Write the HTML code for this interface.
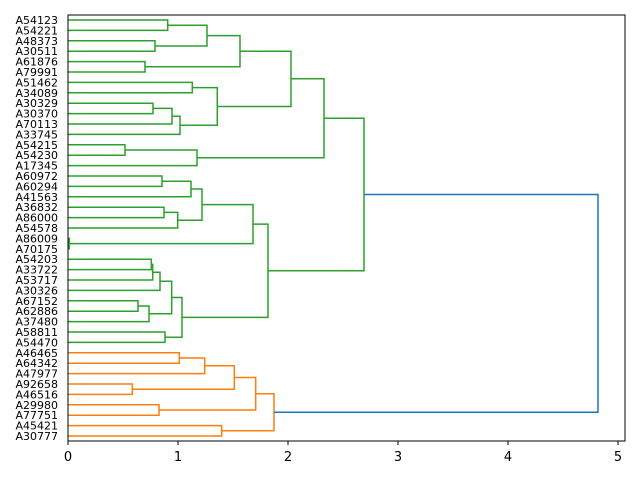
<!DOCTYPE html>
<html><head><meta charset="utf-8"><style>
html,body{margin:0;padding:0;background:#fff;}
svg{display:block;font-family:"DejaVu Sans","Liberation Sans",sans-serif;}
</style></head><body>
<svg width="640" height="480" viewBox="0 0 640 480" xmlns="http://www.w3.org/2000/svg">
<rect width="640" height="480" fill="#fff"/>
<g fill="none" stroke-width="1.5">
<g stroke="#2ca02c">
<path d="M68 20H167.7V30.4H68"/>
<path d="M68 40.8H155V51.2H68"/>
<path d="M167.7 25.2H207V46H155"/>
<path d="M68 61.6H145V72H68"/>
<path d="M207 35.6H240V66.8H145"/>
<path d="M68 82.4H192.3V92.8H68"/>
<path d="M68 103.2H153V113.6H68"/>
<path d="M153 108.4H172V124H68"/>
<path d="M172 116.2H180V134.4H68"/>
<path d="M192.3 87.6H217.3V125.3H180"/>
<path d="M240 51.2H291V106.45H217.3"/>
<path d="M68 144.8H125V155.2H68"/>
<path d="M125 150H197V165.6H68"/>
<path d="M291 78.8H324V157.8H197"/>
<path d="M68 176H162V186.4H68"/>
<path d="M162 181.2H191V196.8H68"/>
<path d="M68 207.2H164V217.6H68"/>
<path d="M164 212.4H177.7V228H68"/>
<path d="M191 189H202V220.2H177.7"/>
<path d="M68 238.4H69.3V248.8H68"/>
<path d="M202 204.6H253V243.6H69.3"/>
<path d="M68 259.2H151.3V269.6H68"/>
<path d="M151.3 264.4H152.7V280H68"/>
<path d="M152.7 272.2H160V290.4H68"/>
<path d="M68 300.8H138V311.2H68"/>
<path d="M138 306H149V321.6H68"/>
<path d="M160 281.3H171.7V313.8H149"/>
<path d="M68 332H165V342.4H68"/>
<path d="M171.7 297.55H182V337.2H165"/>
<path d="M253 224.1H268V317.4H182"/>
<path d="M324 118.3H364V270.75H268"/>
</g>
<g stroke="#ff7f0e">
<path d="M68 352.8H179.3V363.2H68"/>
<path d="M179.3 358H204.7V373.6H68"/>
<path d="M68 384H132.3V394.4H68"/>
<path d="M204.7 365.8H234.3V389.2H132.3"/>
<path d="M68 404.8H159V415.2H68"/>
<path d="M234.3 377.5H255.7V410H159"/>
<path d="M68 425.6H221.7V436H68"/>
<path d="M255.7 393.75H274V430.8H221.7"/>
</g>
<path stroke="#1f77b4" d="M274 412.3H598V194.5H364"/>
</g>
<rect x="68" y="15" width="557" height="426" fill="none" stroke="#000" stroke-width="1"/>
<path stroke="#000" stroke-width="1" d="M68 441v4M178 441v4M288 441v4M398 441v4M508 441v4M618 441v4"/>
<g font-size="13" text-anchor="middle" fill="#000">
<text x="68" y="461">0</text>
<text x="178" y="461">1</text>
<text x="288" y="461">2</text>
<text x="398" y="461">3</text>
<text x="508" y="461">4</text>
<text x="618" y="461">5</text>
</g>
<g font-size="11" text-anchor="end" fill="#000">
<text x="58" y="24">A54123</text>
<text x="58" y="34.4">A54221</text>
<text x="58" y="44.8">A48373</text>
<text x="58" y="55.2">A30511</text>
<text x="58" y="65.6">A61876</text>
<text x="58" y="76">A79991</text>
<text x="58" y="86.4">A51462</text>
<text x="58" y="96.8">A34089</text>
<text x="58" y="107.2">A30329</text>
<text x="58" y="117.6">A30370</text>
<text x="58" y="128">A70113</text>
<text x="58" y="138.4">A33745</text>
<text x="58" y="148.8">A54215</text>
<text x="58" y="159.2">A54230</text>
<text x="58" y="169.6">A17345</text>
<text x="58" y="180">A60972</text>
<text x="58" y="190.4">A60294</text>
<text x="58" y="200.8">A41563</text>
<text x="58" y="211.2">A36832</text>
<text x="58" y="221.6">A86000</text>
<text x="58" y="232">A54578</text>
<text x="58" y="242.4">A86009</text>
<text x="58" y="252.8">A70175</text>
<text x="58" y="263.2">A54203</text>
<text x="58" y="273.6">A33722</text>
<text x="58" y="284">A53717</text>
<text x="58" y="294.4">A30326</text>
<text x="58" y="304.8">A67152</text>
<text x="58" y="315.2">A62886</text>
<text x="58" y="325.6">A37480</text>
<text x="58" y="336">A58811</text>
<text x="58" y="346.4">A54470</text>
<text x="58" y="356.8">A46465</text>
<text x="58" y="367.2">A64342</text>
<text x="58" y="377.6">A47977</text>
<text x="58" y="388">A92658</text>
<text x="58" y="398.4">A46516</text>
<text x="58" y="408.8">A29980</text>
<text x="58" y="419.2">A77751</text>
<text x="58" y="429.6">A45421</text>
<text x="58" y="440">A30777</text>
</g>
</svg>
</body></html>
